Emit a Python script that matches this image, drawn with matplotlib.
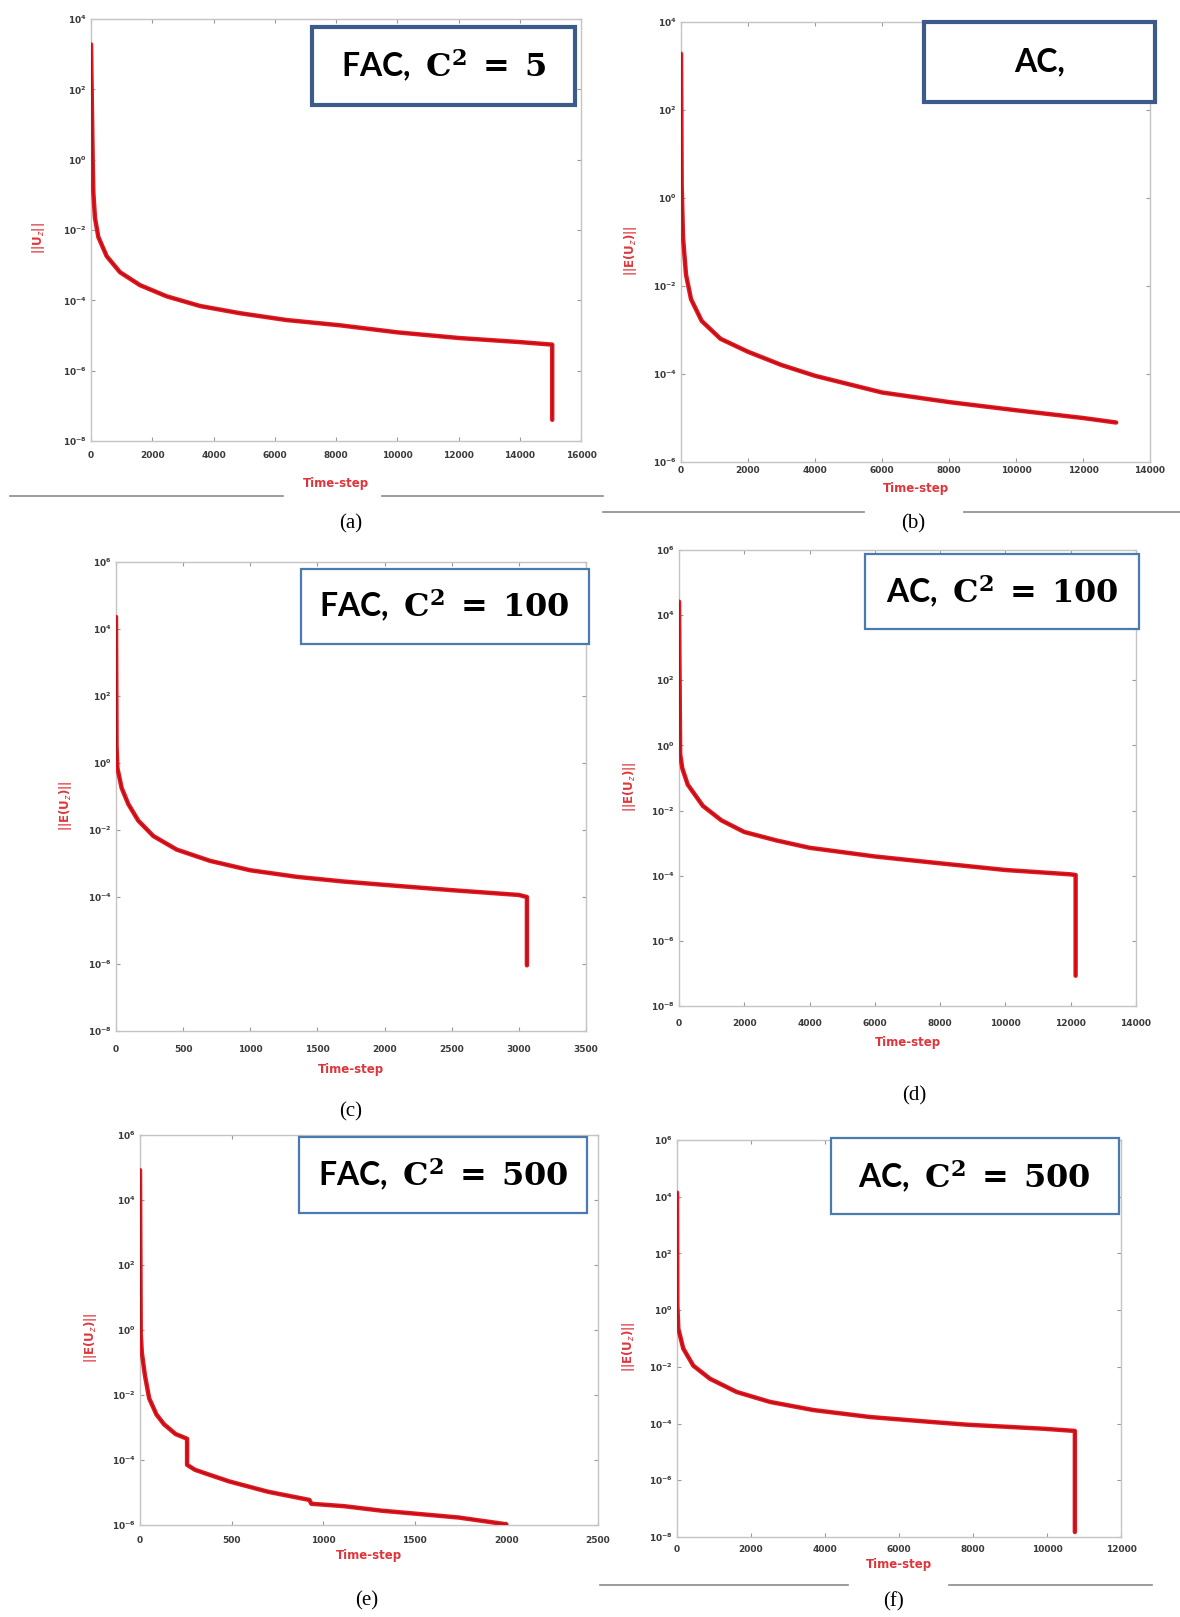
import matplotlib
matplotlib.use("Agg")
import matplotlib.pyplot as plt
from matplotlib.patches import Rectangle
from matplotlib.lines import Line2D

plt.rcParams['mathtext.fontset'] = 'custom'
plt.rcParams['mathtext.bf'] = 'DejaVu Serif:bold'
plt.rcParams['mathtext.rm'] = 'DejaVu Serif'

# ---- data (time-step, error norm) ----
a_steps = [0, 55, 75, 130, 240, 512, 947, 1600, 2470, 3560, 4865, 6390, 8130, 10000, 12000,
           14000, 15060, 15060]
a_norm = [1.9e3, 1.0, 1.2e-1, 2.2e-2, 6.3e-3, 1.8e-3, 6.3e-4, 2.7e-4, 1.3e-4, 6.9e-5, 4.3e-5,
          2.75e-5, 1.95e-5, 1.23e-5, 8.5e-6, 6.5e-6, 5.5e-6, 4.0e-8]

b_steps = [0, 20, 60, 150, 300, 619, 1181, 2000, 3000, 4000, 6000, 8000, 10000, 12000, 12990]
b_norm = [1.9e3, 2.0, 1.26e-1, 1.8e-2, 5.0e-3, 1.6e-3, 6.3e-4, 3.2e-4, 1.6e-4, 9.1e-5, 3.8e-5,
          2.3e-5, 1.5e-5, 1.0e-5, 7.9e-6]

c_steps = [0, 4, 10, 42, 92, 166, 278, 452, 700, 998, 1346, 1693, 2000, 2500, 3000, 3060, 3060]
c_norm = [2.3e4, 3.2, 7.2e-1, 1.8e-1, 5.9e-2, 1.9e-2, 6.6e-3, 2.6e-3, 1.2e-3, 6.3e-4, 4.0e-4,
          2.9e-4, 2.3e-4, 1.6e-4, 1.15e-4, 1.0e-4, 9.1e-7]

d_steps = [0, 35, 100, 266, 729, 1300, 2000, 3000, 4000, 6000, 8000, 10000, 12000, 12150, 12150]
d_norm = [2.6e4, 5.5e-1, 2.0e-1, 6.3e-2, 1.4e-2, 5.0e-3, 2.2e-3, 1.2e-3, 7.2e-4, 3.9e-4, 2.4e-4,
          1.5e-4, 1.1e-4, 1.05e-4, 8.5e-8]

e_steps = [0, 4, 10, 27, 50, 90, 131, 194, 257, 257, 300, 361, 486, 700, 925, 935, 1113, 1321,
           1739, 2000]
e_norm = [8.3e4, 7.6e-1, 2.0e-1, 4.0e-2, 7.9e-3, 2.5e-3, 1.26e-3, 6.3e-4, 4.5e-4, 7.1e-5, 5.0e-5,
          3.8e-5, 2.2e-5, 1.05e-5, 5.9e-6, 4.5e-6, 3.8e-6, 2.75e-6, 1.7e-6, 1.05e-6]

f_steps = [0, 8, 36, 170, 441, 892, 1613, 2514, 3684, 5217, 6838, 7853, 9888, 10753, 10753]
f_norm = [1.4e4, 1.6, 2.2e-1, 4.4e-2, 1.1e-2, 3.8e-3, 1.3e-3, 5.8e-4, 3.0e-4, 1.7e-4, 1.15e-4,
          9.1e-5, 6.6e-5, 5.5e-5, 1.5e-8]

W, H = 1180, 1617
fig = plt.figure(figsize=(W / 100, H / 100), dpi=100)
fig.patch.set_facecolor('white')


def px_axes(x0, y0, x1, y1):
    # pixel box (top-left origin) -> figure fraction rect
    return fig.add_axes([x0 / W, 1 - y1 / H, (x1 - x0) / W, (y1 - y0) / H])


def panel(rect, steps, norm, xmax, xstep, ylo, yhi, ylabel, box, text, thick, xpad, xlab_y):
    ax = px_axes(*rect)
    ax.plot(steps, norm, color='#e8161e', lw=3.2, solid_joinstyle='round',
            solid_capstyle='round', zorder=3)
    ax.plot(steps, norm, color='#6e0d10', lw=0.8, alpha=0.55, solid_joinstyle='round', zorder=4)
    ax.set_yscale('log')
    ax.set_xlim(0, xmax)
    ax.set_ylim(10.0 ** ylo, 10.0 ** yhi)
    ax.set_xticks(range(0, xmax + 1, xstep))
    ax.set_yticks([10.0 ** p for p in range(ylo, yhi + 1, 2)])
    ax.minorticks_off()
    ax.tick_params(direction='in', length=3, width=0.8, color='#999999', top=True, right=True,
                   labelsize=6.5, labelcolor='#3a3a3a', pad=3)
    ax.tick_params(axis='x', pad=xpad)
    for lab in ax.get_xticklabels() + ax.get_yticklabels():
        lab.set_fontweight('bold')
    for sp in ax.spines.values():
        sp.set_color('#c4c4c4')
        sp.set_linewidth(1.0)
    ax.set_xlabel('Time-step', color='#e0343a', fontsize=8.5, fontweight='bold')
    ax.xaxis.set_label_coords(0.5, -xlab_y)
    ax.set_ylabel(ylabel, color='#e0343a', fontsize=8.5, fontweight='bold')
    ax.yaxis.set_label_coords(-0.09, 0.48)
    bx0, by0, bx1, by1 = box
    ec = '#3b5b8a' if thick else '#4a7bb0'
    ax.add_patch(Rectangle((bx0, 1 - by1), bx1 - bx0, by1 - by0, transform=ax.transAxes,
                           facecolor='white', edgecolor=ec, lw=3.0 if thick else 1.6,
                           clip_on=False, zorder=6))
    ax.text((bx0 + bx1) / 2, 1 - (by0 + by1) / 2, text, transform=ax.transAxes,
            ha='center', va='center', fontsize=23, fontweight='bold', family='Lato',
            color='black', zorder=7)
    return ax


panel((91, 19, 581, 441), a_steps, a_norm, 16000, 2000, -8, 4, '||U$_z$||',
      (0.451, 0.018, 0.987, 0.204), r'FAC,  $\mathbf{C^2\;=\;5}$', True, 7, 0.085)
panel((681, 22, 1150, 462), b_steps, b_norm, 14000, 2000, -6, 4, '||E(U$_z$)||',
      (0.518, 0.0, 1.01, 0.182), 'AC,', True, 3, 0.045)
panel((116, 562, 586, 1031), c_steps, c_norm, 3500, 500, -8, 6, '||E(U$_z$)||',
      (0.393, 0.014, 1.006, 0.174), r'FAC,  $\mathbf{C^2\;=\;100}$', False, 10, 0.068)
panel((679, 550, 1136, 1006), d_steps, d_norm, 14000, 2000, -8, 6, '||E(U$_z$)||',
      (0.407, 0.008, 1.007, 0.174), r'AC,  $\mathbf{C^2\;=\;100}$', False, 9, 0.066)
panel((140, 1135, 598, 1525), e_steps, e_norm, 2500, 500, -6, 6, '||E(U$_z$)||',
      (0.347, 0.004, 0.977, 0.201), r'FAC,  $\mathbf{C^2\;=\;500}$', False, 8, 0.062)
panel((677, 1140, 1121, 1537), f_steps, f_norm, 12000, 2000, -8, 6, '||E(U$_z$)||',
      (0.346, -0.004, 0.995, 0.187), r'AC,  $\mathbf{C^2\;=\;500}$', False, 6, 0.053)

# sub-figure captions
captions = ['(a)', '(b)', '(c)', '(d)', '(e)', '(f)']
cap_x = [351, 913, 351, 914, 367, 893]
cap_y = [524, 524, 1112, 1096, 1601, 1602]
for t, x, y in zip(captions, cap_x, cap_y):
    fig.text(x / W, 1 - y / H, t, ha='center', va='center', fontsize=15,
             family='Liberation Serif', color='black')

# thin rules from the page layout
rules = [(496, 10, 283), (496, 382, 603), (512, 603, 864), (512, 964, 1180),
         (1585, 600, 848), (1585, 949, 1152)]
for y, x0, x1 in rules:
    fig.add_artist(Line2D([x0 / W, x1 / W], [1 - y / H, 1 - y / H], color='#8a8a8a', lw=1.2))

fig.savefig('out.png', dpi=100, facecolor='white')
